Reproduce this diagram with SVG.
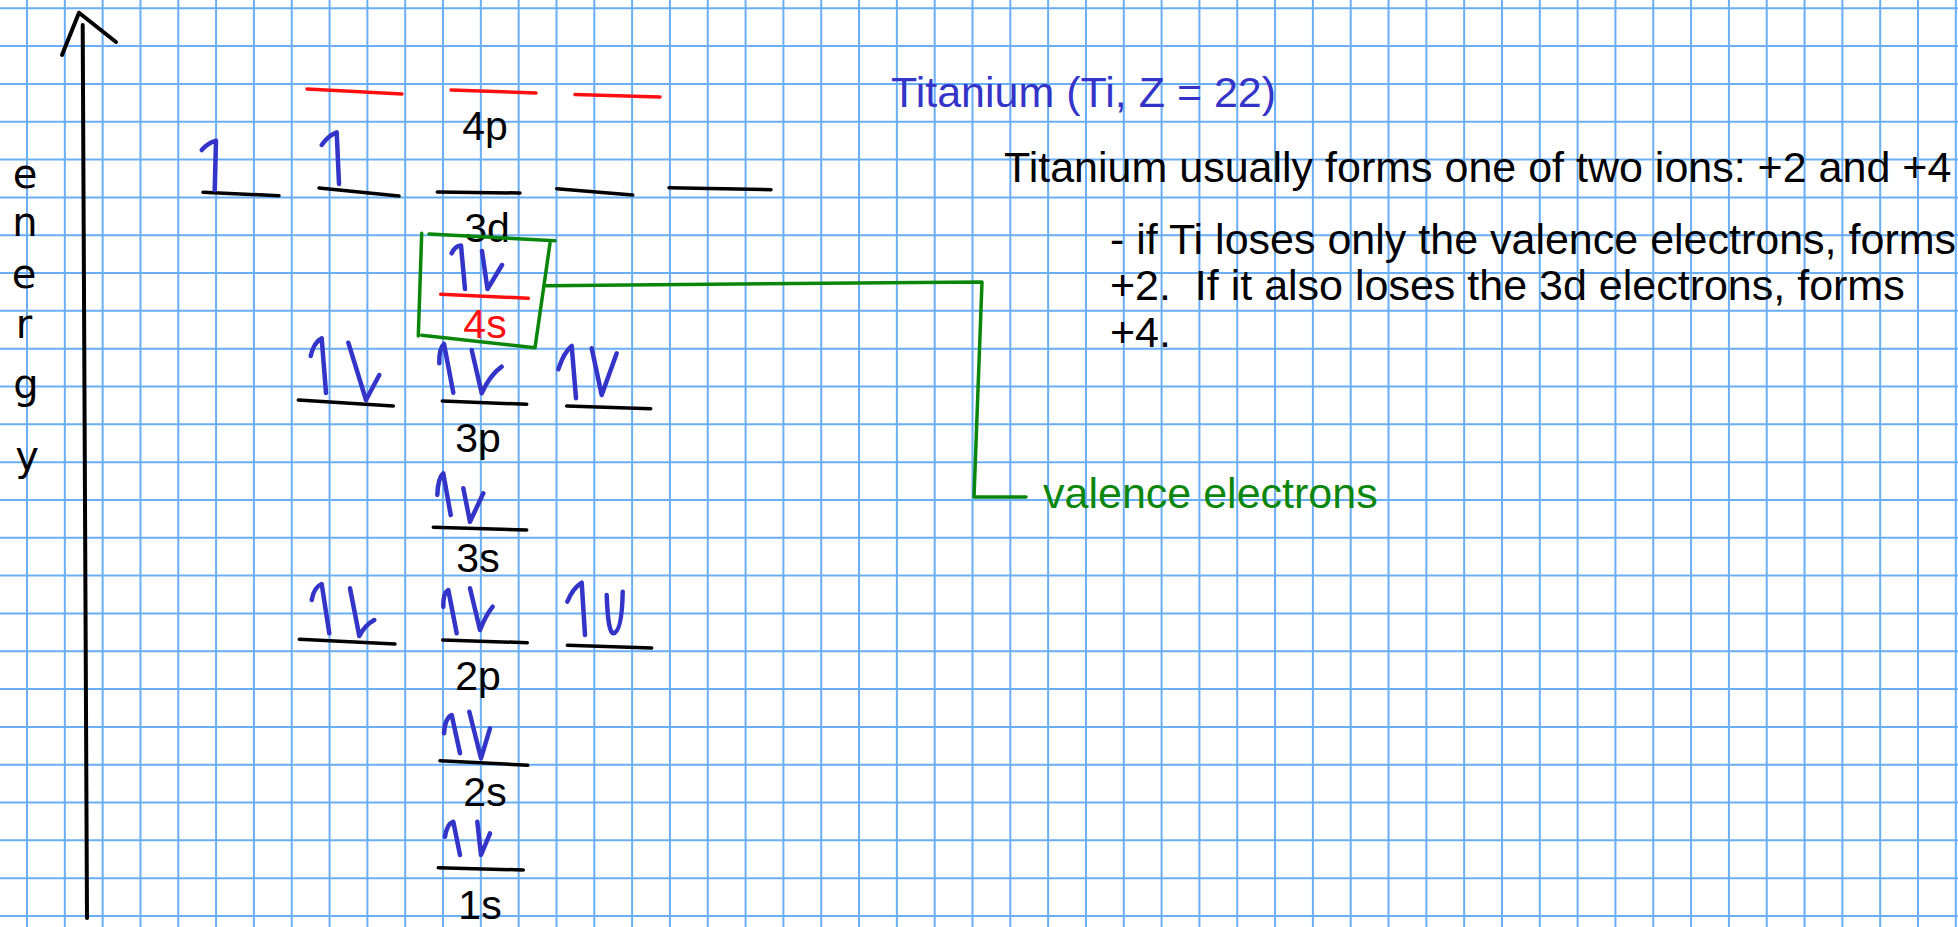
<svg xmlns="http://www.w3.org/2000/svg" width="1958" height="927" viewBox="0 0 1958 927">
<style>
.grid{stroke:#6aaef5;stroke-width:2;fill:none}
.lvl{stroke:#000;stroke-width:3.5;stroke-linecap:round;fill:none}
.red{stroke:#ff1010;stroke-width:3.5;stroke-linecap:round;fill:none}
.e{stroke:#3434c8;stroke-width:4.5;stroke-linecap:round;stroke-linejoin:round;fill:none}
.grn{stroke:#0a870a;stroke-width:3.5;stroke-linecap:round;stroke-linejoin:round;fill:none}
.ax{stroke:#000;stroke-width:4;stroke-linecap:round;stroke-linejoin:round;fill:none}
.lab{font-family:"Liberation Sans",Arial,sans-serif;font-size:41px;fill:#000;text-anchor:middle}
.txt{font-family:"Liberation Sans",Arial,sans-serif;font-size:43px;fill:#000;white-space:pre}
.hand{font-family:"DejaVu Sans",sans-serif;font-size:40px;fill:#000;text-anchor:middle}
</style>
<rect width="1958" height="927" fill="#fff"/>
<path class="grid" d="M27,0V927M64.82,0V927M102.64,0V927M140.46,0V927M178.28,0V927M216.1,0V927M253.92,0V927M291.74,0V927M329.56,0V927M367.38,0V927M405.2,0V927M443.02,0V927M480.84,0V927M518.66,0V927M556.48,0V927M594.3,0V927M632.12,0V927M669.94,0V927M707.76,0V927M745.58,0V927M783.4,0V927M821.22,0V927M859.04,0V927M896.86,0V927M934.68,0V927M972.5,0V927M1010.32,0V927M1048.14,0V927M1085.96,0V927M1123.78,0V927M1161.6,0V927M1199.42,0V927M1237.24,0V927M1275.06,0V927M1312.88,0V927M1350.7,0V927M1388.52,0V927M1426.34,0V927M1464.16,0V927M1501.98,0V927M1539.8,0V927M1577.62,0V927M1615.44,0V927M1653.26,0V927M1691.08,0V927M1728.9,0V927M1766.72,0V927M1804.54,0V927M1842.36,0V927M1880.18,0V927M1918,0V927M1955.82,0V927M0,8.3H1958M0,46.12H1958M0,83.94H1958M0,121.76H1958M0,159.58H1958M0,197.4H1958M0,235.22H1958M0,273.04H1958M0,310.86H1958M0,348.68H1958M0,386.5H1958M0,424.32H1958M0,462.14H1958M0,499.96H1958M0,537.78H1958M0,575.6H1958M0,613.42H1958M0,651.24H1958M0,689.06H1958M0,726.88H1958M0,764.7H1958M0,802.52H1958M0,840.34H1958M0,878.16H1958M0,915.98H1958"/>

<g id="energy-axis">
<path class="ax" d="M82.7,25 L87,918"/>
<path class="ax" d="M62,55 L79,12.7 L116,42"/>
<text class="hand" x="25" y="188">e</text>
<text class="hand" x="25" y="236">n</text>
<text class="hand" x="24" y="288">e</text>
<text class="hand" x="24" y="338">r</text>
<text class="hand" x="26" y="398">g</text>
<text class="hand" x="27" y="470">y</text>
</g>

<g id="orbital-4p">
<path class="red" d="M307,89 L402,94"/>
<path class="red" d="M451,90 L536,93"/>
<path class="red" d="M575,94.5 L660,97"/>
<text class="lab" x="485" y="140">4p</text>
</g>

<g id="orbital-3d">
<path class="lvl" d="M203,192.3 L279,195.7"/>
<path class="lvl" d="M319,188 L399,196"/>
<path class="lvl" d="M437.3,192 L520,193"/>
<path class="lvl" d="M556.7,188.7 L632.7,195"/>
<path class="lvl" d="M669,187.7 L771,189.7"/>
<path class="e" d="M201.7,150 Q208,143 216,140.7 L214.7,190"/>
<path class="e" d="M321.7,145 Q328,136 336.7,132.3 L339,184"/>
<text class="lab" x="487" y="241.7">3d</text>
</g>

<g id="orbital-4s">
<path class="red" d="M440.7,294.3 L528.3,298.3"/>
<path class="e" d="M451.7,253.3 Q455,246 461,245.5 L465,289"/>
<path class="e" d="M482,251 L487.5,289 L502,265"/>
<text class="lab" x="485" y="338.3" style="fill:#ff1010">4s</text>
</g>

<g id="valence-box">
<path class="grn" d="M429,234 L555,240.7"/>
<path class="grn" d="M421.7,233.3 L418.3,336"/>
<path class="grn" d="M421.7,335.3 L535,347.7 L550,243.3"/>
</g>

<g id="orbital-3p">
<path class="lvl" d="M298.3,400 L393.3,406"/>
<path class="lvl" d="M442.3,401 L526.7,404.3"/>
<path class="lvl" d="M566.7,406 L650.7,408.7"/>
<path class="e" d="M310.7,356 Q314,342 321.7,338.3 L326,393"/>
<path class="e" d="M348.3,342.7 L366,400 L379.3,375"/>
<path class="e" d="M439.3,363.3 Q439,348 444,344 L453.3,392.7"/>
<path class="e" d="M471.7,350 L481.7,393.3 Q490,375 501.7,366.7"/>
<path class="e" d="M558.3,369.3 Q564,352 571.7,346 L576,398.3"/>
<path class="e" d="M591.7,348.3 L601.7,395 L616.7,353.3"/>
<text class="lab" x="478" y="451.7">3p</text>
</g>

<g id="orbital-3s">
<path class="lvl" d="M433.3,527.3 L526.7,530"/>
<path class="e" d="M437.3,495 Q438,478 443.3,473.3 L450.7,515"/>
<path class="e" d="M463.3,488.3 L470,521.7 L483.3,493.3"/>
<text class="lab" x="478" y="571.7">3s</text>
</g>

<g id="orbital-2p">
<path class="lvl" d="M299.3,639.3 L395,644"/>
<path class="lvl" d="M442.7,640 L527.3,642.7"/>
<path class="lvl" d="M567.3,645.3 L651.7,648"/>
<path class="e" d="M311.7,600 Q314,587 321.7,584 L329.3,633.3"/>
<path class="e" d="M350,588.3 L359.3,636 Q365,625 374.3,620"/>
<path class="e" d="M443.3,606.7 Q443,593 448.3,590 L456.7,633.3"/>
<path class="e" d="M470,588.3 L480,630 Q486,615 492.7,606.7"/>
<path class="e" d="M567.3,601.7 Q573,588 581.7,582.7 L585,635"/>
<path class="e" d="M606.7,595 Q608,633 613.3,633.3 Q622,632 622.7,591.7"/>
<text class="lab" x="478" y="690">2p</text>
</g>

<g id="orbital-2s">
<path class="lvl" d="M440,760.7 L527.7,765.3"/>
<path class="e" d="M444,733.3 Q445,718 451.7,715 L460,753.3"/>
<path class="e" d="M469.3,711.7 L481,758.3 L490,728.3"/>
<text class="lab" x="485" y="806">2s</text>
</g>

<g id="orbital-1s">
<path class="lvl" d="M438.3,867.7 L523.3,870"/>
<path class="e" d="M445,836.7 Q447,824 453.3,821.7 L460,855"/>
<path class="e" d="M477.3,821.7 L481,855 L490,833.3"/>
<text class="lab" x="480" y="919">1s</text>
</g>

<g id="connectors">
<path class="grn" d="M546,285.7 L982,282 L974,497 L1026,497"/>
</g>

<g id="label-valence">
<text class="txt" x="1043" y="508" style="fill:#0a870a">valence electrons</text>
</g>

<g id="notes">
<text class="txt" x="891" y="107" style="fill:#3434c8">Titanium (Ti, Z = 22)</text>
<text class="txt" x="1004" y="182">Titanium usually forms one of two ions: +2 and +4</text>
<text class="txt" x="1110" y="254">- if Ti loses only the valence electrons, forms</text>
<text class="txt" x="1110" y="300">+2.  If it also loses the 3d electrons, forms</text>
<text class="txt" x="1110" y="347">+4.</text>
</g>
</svg>
